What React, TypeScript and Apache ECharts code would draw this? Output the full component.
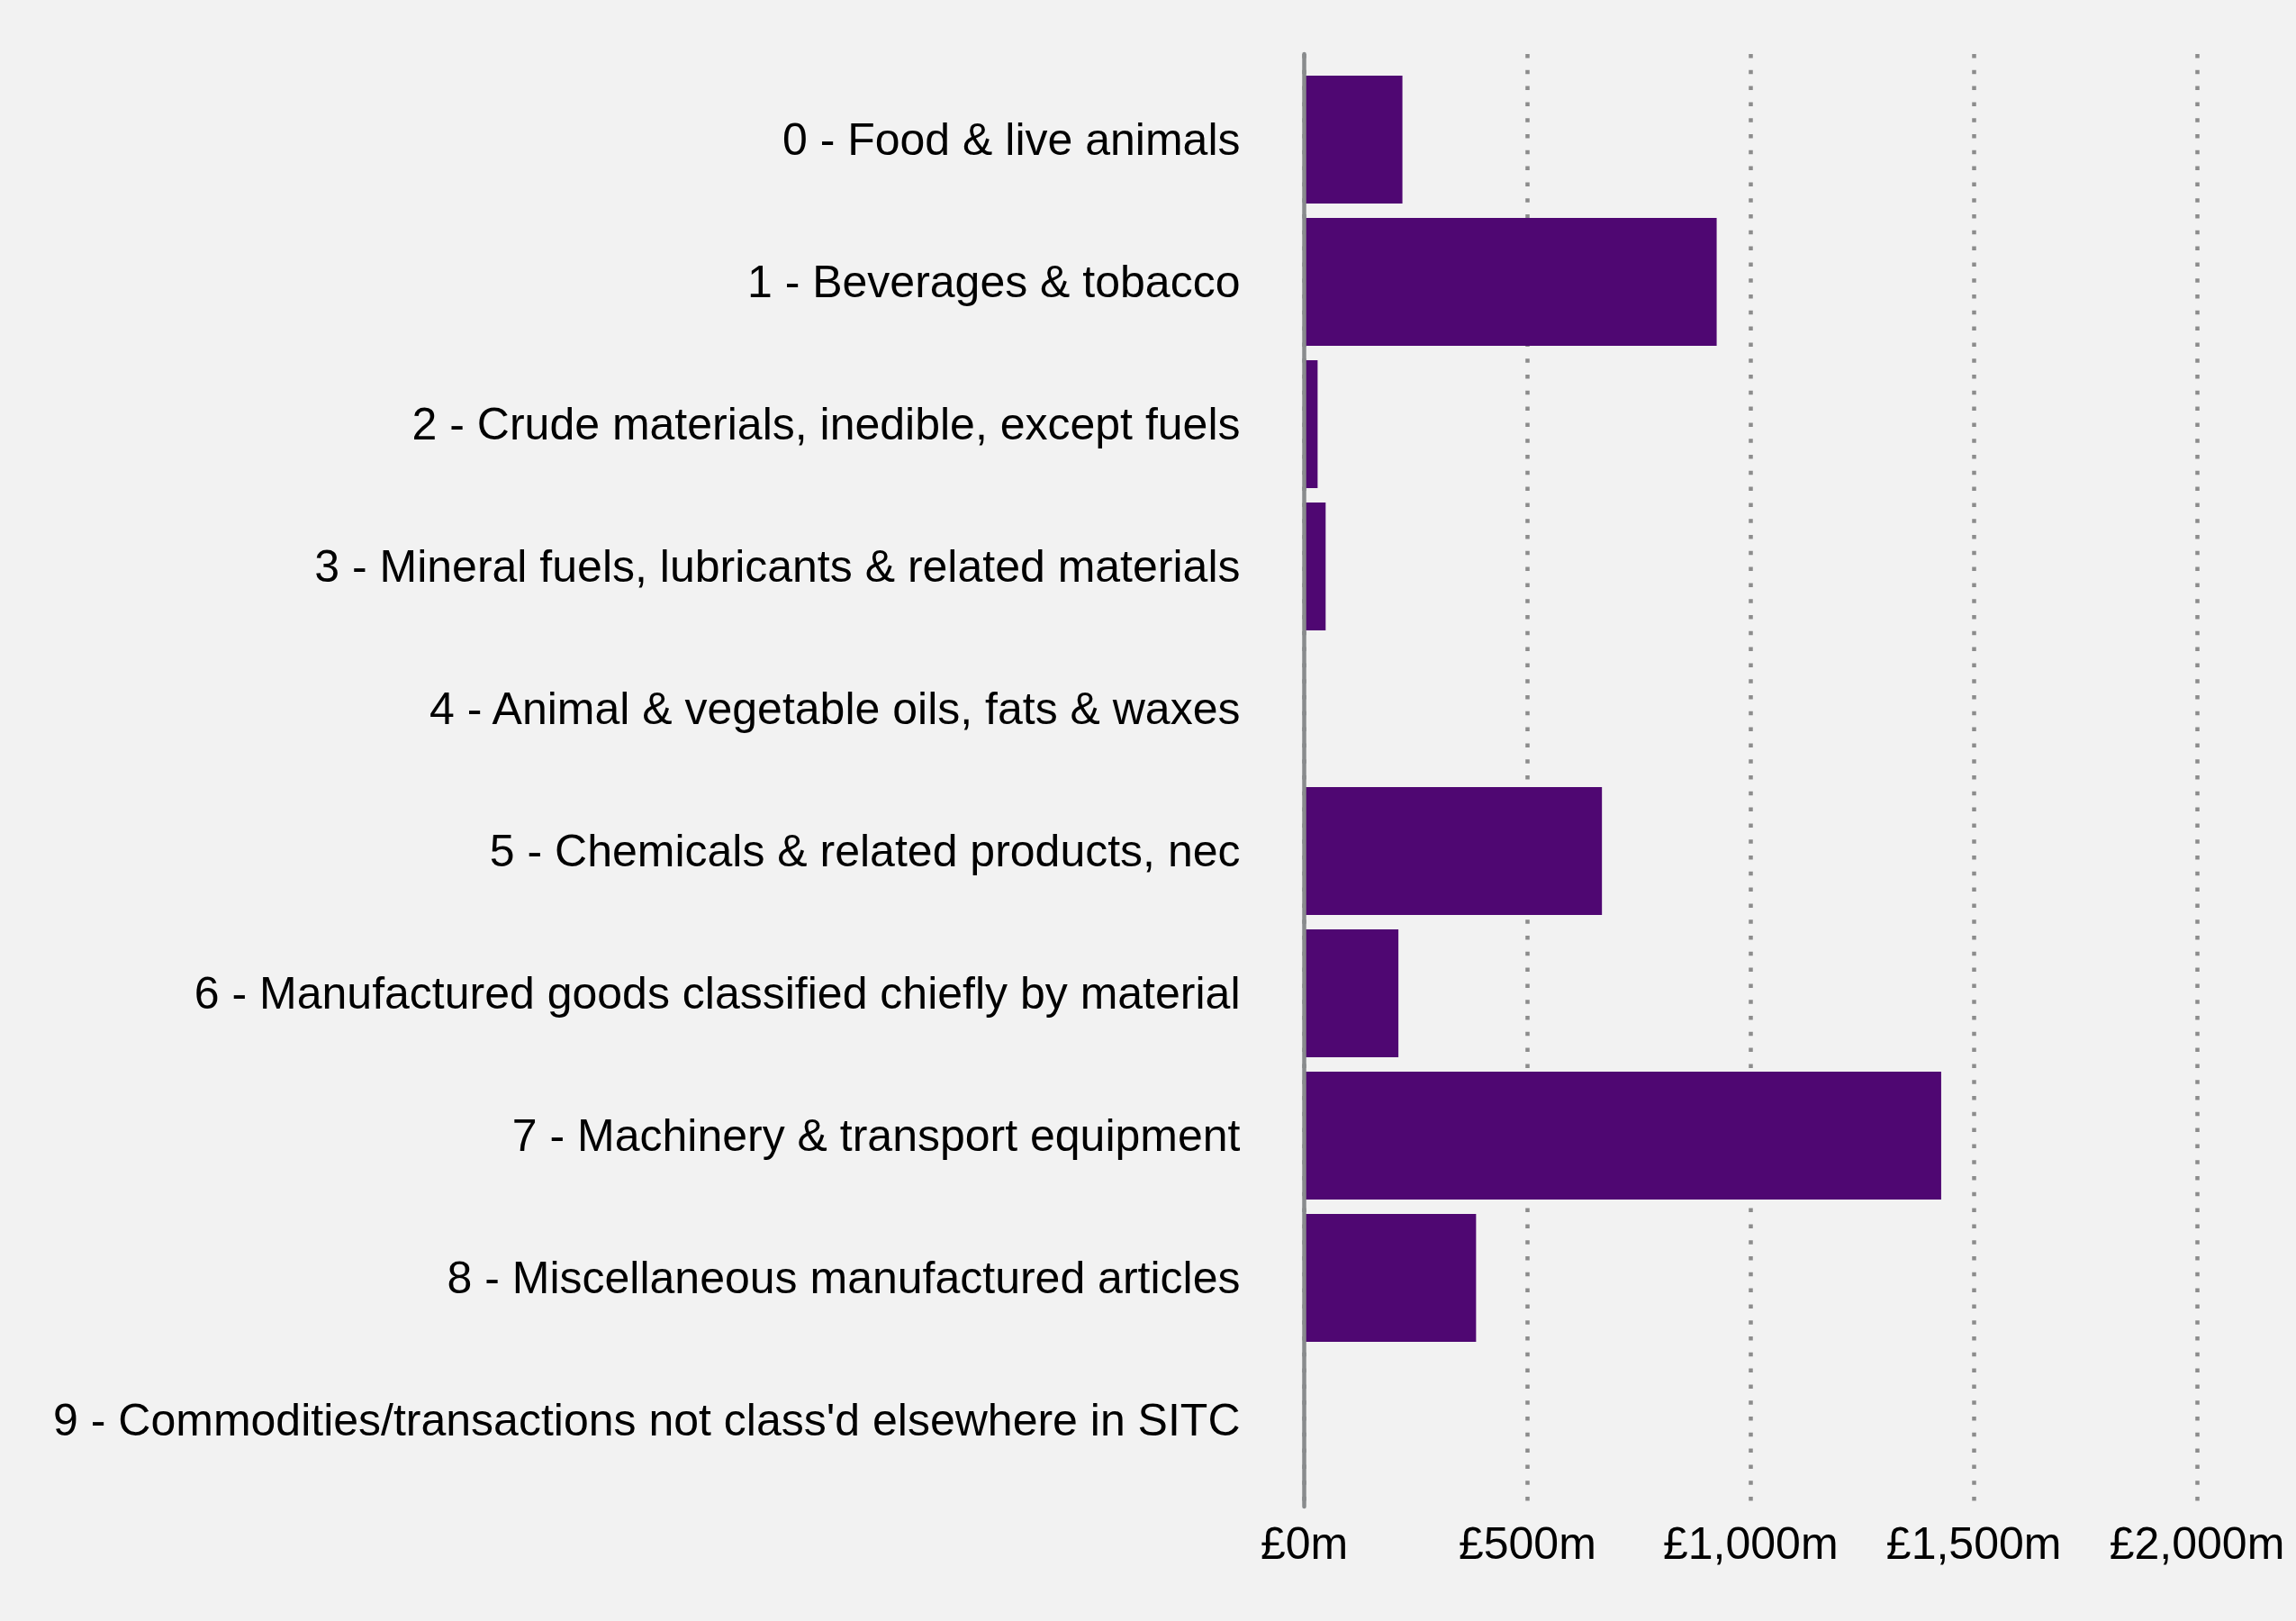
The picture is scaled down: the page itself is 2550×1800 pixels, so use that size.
import React, { useEffect, useRef } from "react";
import * as echarts from "echarts";

const categories = [
  "0 - Food & live animals",
  "1 - Beverages & tobacco",
  "2 - Crude materials, inedible, except fuels",
  "3 - Mineral fuels, lubricants & related materials",
  "4 - Animal & vegetable oils, fats & waxes",
  "5 - Chemicals & related products, nec",
  "6 - Manufactured goods classified chiefly by material",
  "7 - Machinery & transport equipment",
  "8 - Miscellaneous manufactured articles",
  "9 - Commodities/transactions not class'd elsewhere in SITC",
];
const values = [220, 924, 30, 48, 0, 667, 211, 1427, 385, 0];
const xTicks = [0, 500, 1000, 1500, 2000];

const FONT = '"Liberation Sans", Arial, sans-serif';

function fmt(v: number): string {
  return "£" + String(v).replace(/\B(?=(\d{3})+(?!\d))/g, ",") + "m";
}

export default function App() {
  const ref = useRef<HTMLDivElement>(null);
  useEffect(() => {
    document.body.style.margin = "0";
    const chart = echarts.init(ref.current!, null, { renderer: "svg" });
    chart.setOption({
      animation: false,
      backgroundColor: "#f2f2f2",
      textStyle: { fontFamily: FONT },
      grid: [
        { left: 1448.5, right: 110, top: 76, height: 1580 },
        { left: 1448.5, right: 110, top: 60, height: 1613 },
      ],
      xAxis: [
        { gridIndex: 0, type: "value", min: 0, max: 2000, show: false },
        {
          gridIndex: 1,
          type: "value",
          min: 0,
          max: xTicks[xTicks.length - 1],
          interval: 500,
          axisLine: { show: false },
          axisTick: { show: false },
          splitLine: {
            show: true,
            lineStyle: { color: "#8c8c8c", width: 4.5, type: [4.5, 13.3] },
          },
          axisLabel: {
            formatter: (v: number) => fmt(v),
            fontSize: 50,
            color: "#000",
            fontFamily: FONT,
            margin: 16,
          },
        },
      ],
      yAxis: [
        {
          gridIndex: 0,
          type: "category",
          data: categories,
          inverse: true,
          axisLine: { show: false },
          axisTick: { show: false },
          splitLine: { show: false },
          axisLabel: {
            fontSize: 50,
            color: "#000",
            fontFamily: FONT,
            margin: 71,
            padding: [3, 0, 0, 0],
          },
        },
        {
          gridIndex: 1,
          type: "value",
          min: 0,
          max: 1,
          z: 5,
          axisLine: { show: true, lineStyle: { color: "#898b8d", width: 4.5 } },
          axisTick: { show: false },
          axisLabel: { show: false },
          splitLine: { show: false },
        },
      ],
      series: [
        {
          type: "bar",
          xAxisIndex: 0,
          yAxisIndex: 0,
          data: values,
          barCategoryGap: "10%",
          itemStyle: { color: "#4f0772" },
        },
      ],
    });
    return () => chart.dispose();
  }, []);
  return <div ref={ref} style={{ width: 2550, height: 1800 }} />;
}
